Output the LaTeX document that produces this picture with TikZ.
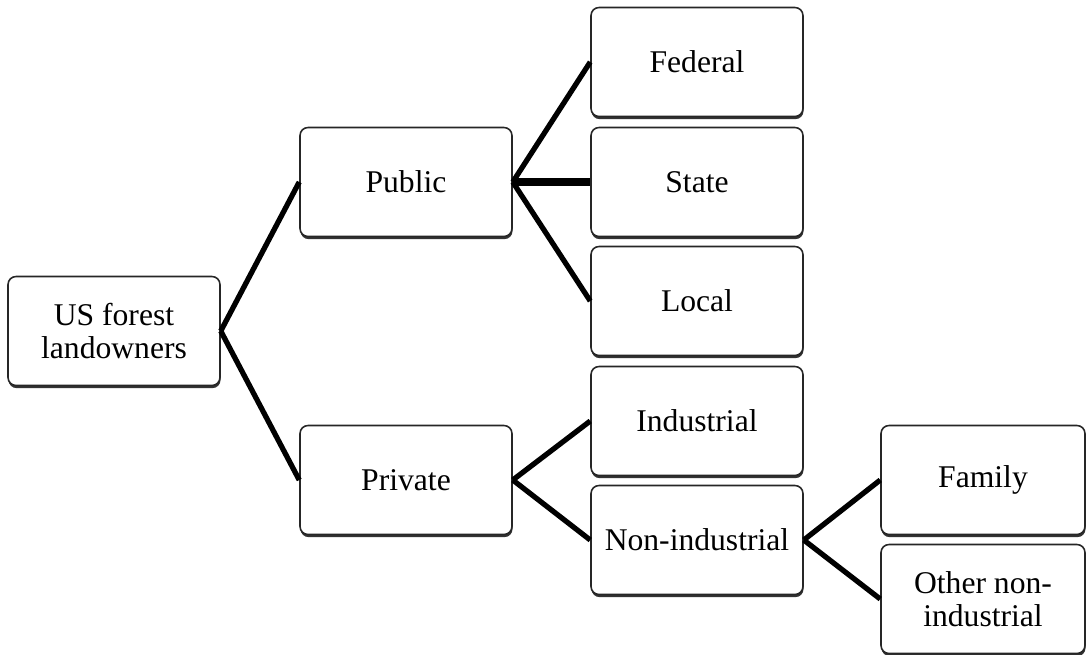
\documentclass[tikz,border=0pt]{standalone}
\usepackage{fontspec}
\setmainfont{Liberation Serif}
\usetikzlibrary{shadows}

\begin{document}
\begin{tikzpicture}[x=0.02cm, y=-0.02cm,
    owner/.style={draw=black!85, line width=0.9pt, rounded corners=0.16cm, fill=white,
        minimum width=4.24cm, minimum height=2.18cm, align=center,
        font=\fontsize{18}{18.6}\selectfont,
        drop shadow={opacity=1, fill=black!80, shadow xshift=0.3pt, shadow yshift=-1.5pt}},
    leaf/.style={owner, minimum width=4.08cm},
    link/.style={line width=3pt, black}]
    \useasboundingbox (0,0) rectangle (1086,654);

    % Root of the tree
    \node[owner] (us) at (114,331) {US forest\\landowners};

    % Public / private split
    \node[owner] (public) at (406,182) {Public};
    \node[owner] (private) at (406,480) {Private};

    % Public owners
    \node[owner] (federal) at (697,62) {Federal};
    \node[owner] (state) at (697,182) {State};
    \node[owner] (local) at (697,301) {Local};

    % Private owners
    \node[owner] (industrial) at (697,421) {Industrial};
    \node[owner] (nonind) at (697,540) {Non-industrial};

    % Non-industrial owners
    \node[leaf] (family) at (983,480) {Family};
    \node[leaf] (othernonind) at (983,599) {Other non-\\industrial};

    % Links
    \draw[link] (us.east) -- (public.west);
    \draw[link] (us.east) -- (private.west);
    \draw[link] (public.east) -- (federal.west);
    \draw[link, line width=4.3pt] (public.east) -- (state.west);
    \draw[link] (public.east) -- (local.west);
    \draw[link] (private.east) -- (industrial.west);
    \draw[link] (private.east) -- (nonind.west);
    \draw[link] (nonind.east) -- (family.west);
    \draw[link] (nonind.east) -- (othernonind.west);
\end{tikzpicture}
\end{document}
